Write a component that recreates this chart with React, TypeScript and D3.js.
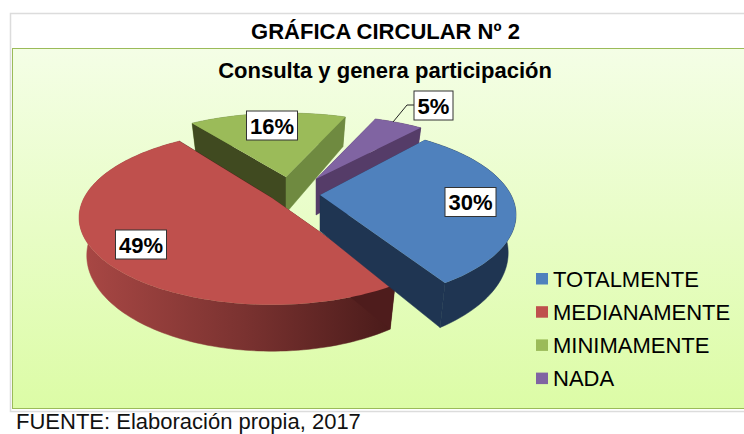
import React from "react";
import * as d3 from "d3";

const categories = ["TOTALMENTE", "MEDIANAMENTE", "MINIMAMENTE", "NADA"];
const values = [30, 49, 16, 5];
const topColors = ["#4f81bd", "#bf504d", "#9bbb59", "#8064a2"];
const startWallColors = ["#1f3552", "#4e1c1c", "#404a20", "#553c68"];
const endWallColors = ["#1f3552", "#4e1c1c", "#6f8a40", "#553c68"];
const outerWallFills = ["#1f3552", "url(#redWall)", "#6f8a40", "#553c68"];
const centers: [number, number][] = [[320, 195], [272, 198], [286, 177], [316, 179]];
const radii = [191, 188, 191, 191];
const flattening = [0.44, 0.44, 0.41, 0.41];
const labelCenters: [number, number][] = [[470.5, 202], [141, 244.5], [272, 125.5], [433.5, 105.5]];

const P = 0.225, DEPTH = 36, BOTTOM_SCALE = 0.96;
const startDeg = 40;

const pieGen = d3.pie<number>().sort(null).value((d) => d)
  .startAngle((startDeg * Math.PI) / 180)
  .endAngle(((startDeg + 360) * Math.PI) / 180);
const arcs = pieGen(values);
const line = d3.line<[number, number]>();

function project(i: number, a: number, bottom: boolean): [number, number] {
  const c = centers[i], R = radii[i], K = flattening[i];
  const s = 1 / (1 + P * Math.cos(a));
  const dx = R * Math.sin(a) * s;
  const dy = -R * K * Math.cos(a) * s;
  if (!bottom) return [c[0] + dx, c[1] + dy];
  return [c[0] + dx * BOTTOM_SCALE, c[1] + dy + DEPTH * s];
}
function arcPts(i: number, a0: number, a1: number, bottom: boolean) {
  const n = Math.max(8, Math.ceil(Math.abs(a1 - a0) * 40));
  return d3.range(n + 1).map((j) => project(i, a0 + ((a1 - a0) * j) / n, bottom));
}
const closed = (pts: [number, number][]) => (line(pts) ?? "") + "Z";

const W = 744, H = 434;
const font = "'Liberation Sans', Arial, sans-serif";

export default function App() {
  const order = [3, 2, 1, 0];
  return (
    <svg width={W} height={H} viewBox={`0 0 ${W} ${H}`} style={{ position: "absolute", left: 0, top: 0, display: "block" }}>
      <defs>
        <linearGradient id="bg" x1="0" y1="0" x2="0" y2="1">
          <stop offset="0" stopColor="#f4fee6" />
          <stop offset="1" stopColor="#dcfca6" />
        </linearGradient>
        <linearGradient id="redWall" gradientUnits="userSpaceOnUse" x1="85" y1="0" x2="392" y2="0">
          <stop offset="0" stopColor="#a84744" />
          <stop offset="0.5" stopColor="#7c3331" />
          <stop offset="1" stopColor="#4a1b1a" />
        </linearGradient>
      </defs>
      <rect width={W} height={H} fill="#fff" />
      <rect x={10.5} y={13.5} width={W} height={398} fill="#fff" stroke="#dcdcdc" strokeWidth={1.5} />
      <text x={385.5} y={38.5} textAnchor="middle" fontFamily={font} fontWeight="700" fontSize={22} fill="#000">GRÁFICA CIRCULAR Nº 2</text>
      <rect x={12.5} y={48.5} width={W} height={360} fill="url(#bg)" stroke="#9bbb59" strokeWidth={1} />
      <text x={385} y={78} textAnchor="middle" fontFamily={font} fontWeight="700" fontSize={22} fill="#000">Consulta y genera participación</text>

      {order.map((i) => {
        const c = centers[i];
        const { startAngle: a0, endAngle: a1 } = arcs[i];
        const apexBot: [number, number] = [c[0], c[1] + DEPTH];
        const outer = [...arcPts(i, a0, a1, false), ...arcPts(i, a0, a1, true).reverse()];
        const startWall = [c, project(i, a0, false), project(i, a0, true), apexBot];
        const endWall = [c, project(i, a1, false), project(i, a1, true), apexBot];
        const top = [c, ...arcPts(i, a0, a1, false)];
        return (
          <g key={categories[i]}>
            <path d={closed(outer)} fill={outerWallFills[i]} stroke={outerWallFills[i]} strokeWidth={0.5} />
            <path d={closed(startWall as [number, number][])} fill={startWallColors[i]} />
            <path d={closed(endWall as [number, number][])} fill={endWallColors[i]} stroke={endWallColors[i]} strokeWidth={0.5} />
            <path d={closed(top as [number, number][])} fill={topColors[i]} />
          </g>
        );
      })}

      <path d="M393,122 L407,105 L414,105" fill="none" stroke="#222" strokeWidth={1} />
      {values.map((v, i) => {
        const [x, y] = labelCenters[i];
        const w = v < 10 ? 39 : 51;
        return (
          <g key={i}>
            <rect x={x - w / 2} y={y - 14.5} width={w} height={29} fill="#fff" stroke="#333" strokeWidth={1} />
            <text x={x} y={y + 8} textAnchor="middle" fontFamily={font} fontWeight="700" fontSize={22} fill="#000">{v}%</text>
          </g>
        );
      })}

      {categories.map((name, i) => {
        const y = 278.5 + i * 33.2;
        return (
          <g key={name}>
            <rect x={536} y={y - 5.5} width={12} height={11.5} fill={topColors[i]} />
            <text x={553} y={y + 8} fontFamily={font} fontSize={22} fill="#000">{name}</text>
          </g>
        );
      })}

      <text x={16} y={429} fontFamily={font} fontSize={22} fill="#111">FUENTE: Elaboración propia, 2017</text>
    </svg>
  );
}
